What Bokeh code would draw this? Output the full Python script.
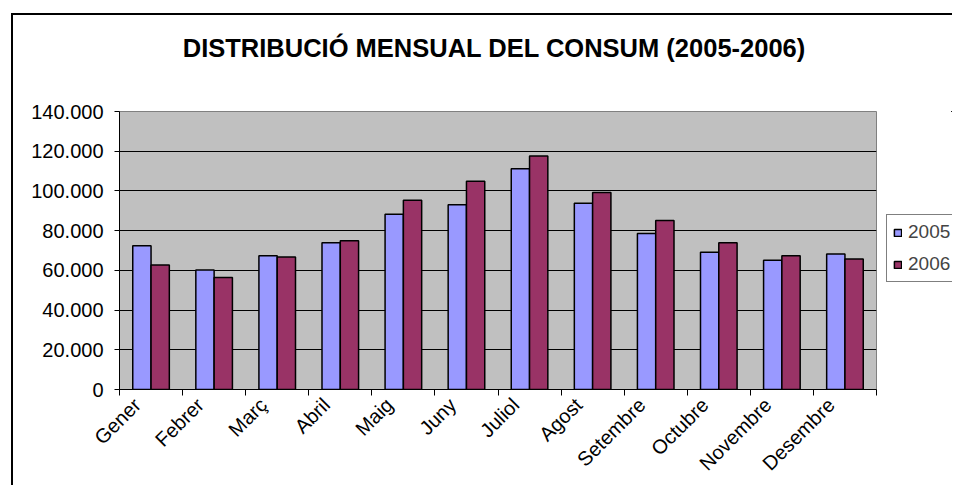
import numpy as np
from bokeh.plotting import figure
from bokeh.layouts import row, column
from bokeh.models import Range1d, FixedTicker, ColumnDataSource, Legend, LegendItem, Label
from bokeh.embed import file_html
from bokeh.resources import INLINE

title_text = "DISTRIBUCIÓ MENSUAL DEL CONSUM (2005-2006)"
months = ["Gener", "Febrer", "Març", "Abril", "Maig", "Juny", "Juliol",
          "Agost", "Setembre", "Octubre", "Novembre", "Desembre"]
v2005 = [72400, 60200, 67400, 73900, 88200, 93000, 111200, 93800, 78600, 69100, 65100, 68200]
v2006 = [62700, 56400, 66700, 74900, 95300, 104900, 117600, 99200, 85100, 73900, 67400, 65700]
y_ticks = [0, 20000, 40000, 60000, 80000, 100000, 120000, 140000]
y_labels = ["0", "20.000", "40.000", "60.000", "80.000", "100.000", "120.000", "140.000"]
series = ["2005", "2006"]
colors = ["#9999FF", "#993366"]

FONT = "Liberation Sans"
WT, HT = 939, 50        # title strip
WM, HM = 867, 420       # main chart
WL = 72                 # legend strip
FL, FT, FW, FH = 106, 46, 757, 279


def blank(w, h, xr=(0, 1), yr=(0, 1)):
    f = figure(width=w, height=h, output_backend="svg", toolbar_location=None,
               x_axis_type=None, y_axis_type=None, min_border=0,
               x_range=Range1d(*xr), y_range=Range1d(*yr),
               background_fill_color="white", border_fill_color="white",
               outline_line_color=None)
    f.xgrid.visible = False
    f.ygrid.visible = False
    return f


# ---- title
pt = blank(WT, HT)
pt.add_layout(Label(x=481, y=18, x_units="screen", y_units="screen", text=title_text,
                    text_align="center", text_baseline="middle", text_font=FONT,
                    text_font_style="bold", text_font_size="25.5px", text_color="black"))

# ---- main chart
p = figure(width=WM, height=HM, output_backend="svg", toolbar_location=None,
           x_range=Range1d(0, len(months)), y_range=Range1d(0, 140000),
           min_border_left=FL, min_border_top=FT,
           min_border_right=WM - FL - FW, min_border_bottom=HM - FT - FH)

idx = np.arange(len(months))
bw = 0.29
src = ColumnDataSource(dict(x1=idx + 0.5 - bw / 2, x2=idx + 0.5 + bw / 2, a=v2005, b=v2006))
p.vbar(x="x1", top="a", width=bw, source=src, fill_color=colors[0],
       line_color="black", line_width=1.5)
p.vbar(x="x2", top="b", width=bw, source=src, fill_color=colors[1],
       line_color="black", line_width=1.5)

p.background_fill_color = "#C0C0C0"
p.border_fill_color = "white"
p.outline_line_color = "#808080"
p.outline_line_width = 1
p.xgrid.grid_line_color = None
p.ygrid.grid_line_color = "black"
p.ygrid.grid_line_width = 1

p.yaxis.ticker = FixedTicker(ticks=y_ticks)
p.yaxis.major_label_overrides = {t: l for t, l in zip(y_ticks, y_labels)}
p.yaxis.major_label_text_font = FONT
p.yaxis.major_label_text_font_size = "20px"
p.yaxis.major_label_text_color = "black"
p.yaxis.major_tick_out = 5
p.yaxis.major_tick_in = 0
p.yaxis.minor_tick_line_color = None
p.yaxis.axis_line_color = "black"
p.yaxis.major_tick_line_color = "black"
p.yaxis.major_label_standoff = 11

# x axis: rotated labels just left of each category centre, tick marks at boundaries
label_pos = [i + 0.28 for i in range(len(months))]
bounds = list(range(len(months) + 1))
p.xaxis.ticker = FixedTicker(ticks=label_pos, minor_ticks=bounds)
p.xaxis.major_label_overrides = {c: m for c, m in zip(label_pos, months)}
p.xaxis.major_label_orientation = np.pi / 4
p.xaxis.major_label_text_font = FONT
p.xaxis.major_label_text_font_size = "20px"
p.xaxis.major_label_text_color = "black"
p.xaxis.major_tick_line_color = None
p.xaxis.major_tick_out = 0
p.xaxis.major_tick_in = 0
p.xaxis.minor_tick_line_color = "black"
p.xaxis.minor_tick_out = 6
p.xaxis.minor_tick_in = 0
p.xaxis.axis_line_color = "black"
p.xaxis.major_label_standoff = 6

# ---- legend strip on the right (its bars lie outside its view)
pl = blank(WL, HM, xr=(-3, -2), yr=(-2, -1))
l1 = pl.vbar(x="x1", top="a", width=bw, source=src, fill_color=colors[0],
             line_color="black", line_width=1.5)
l2 = pl.vbar(x="x2", top="b", width=bw, source=src, fill_color=colors[1],
             line_color="black", line_width=1.5)
lg = Legend(items=[LegendItem(label=series[0], renderers=[l1]),
                   LegendItem(label=series[1], renderers=[l2])],
            location=(6, 107))
lg.border_line_color = "black"
lg.border_line_width = 1
lg.background_fill_color = "white"
lg.background_fill_alpha = 1
lg.label_text_font = FONT
lg.label_text_font_size = "19px"
lg.glyph_width = 9
lg.glyph_height = 9
lg.label_height = 22
lg.spacing = 10
lg.padding = 6
lg.label_standoff = 6
lg.margin = 0
pl.add_layout(lg)

# ---- outer chart border along the top and left
layout = column(pt, row(p, pl, spacing=0), spacing=0, margin=(13, 0, 0, 11),
                styles={"border-top": "2px solid black", "border-left": "2px solid black"})

open("out.html", "w").write(file_html(layout, INLINE))
